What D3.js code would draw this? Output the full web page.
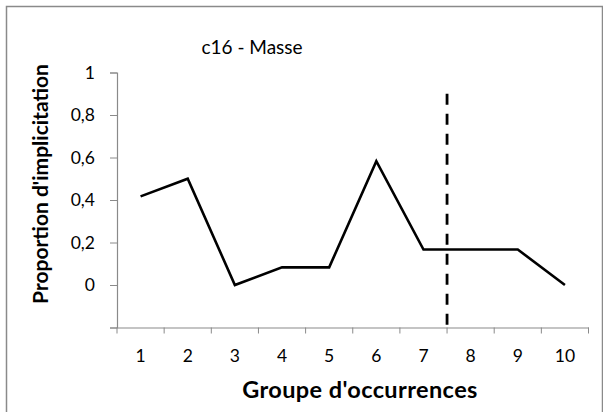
<!DOCTYPE html>
<html>
<head>
<meta charset="utf-8">
<script src="https://cdn.jsdelivr.net/npm/d3@7"></script>
<style>
  body { margin: 0; background: #fff; }
  text { font-family: Lato, "Open Sans", sans-serif; fill: #000; }
</style>
</head>
<body>
<svg id="chart" width="603" height="412"></svg>
<script>
// data
var groups = ["1", "2", "3", "4", "5", "6", "7", "8", "9", "10"];
var proportions = [0.417, 0.5, 0, 0.083, 0.083, 0.583, 0.167, 0.167, 0.167, 0];
var yTicks = [0, 0.2, 0.4, 0.6, 0.8, 1];
var splitAfter = "7";
var splitTop = 0.9;
var chartTitle = "c16 - Masse";
var xTitle = "Groupe d'occurrences";
var yTitle = "Proportion d'implicitation";

var svg = d3.select("#chart");
var margin = { left: 117, right: 14.5, top: 72.5, bottom: 84.5 };
var width = 603, height = 412;

// outer frame
svg.append("rect")
  .attr("x", 6.5).attr("y", 6.5)
  .attr("width", 596).attr("height", 420)
  .attr("fill", "none")
  .attr("stroke", "#8a8a8a")
  .attr("stroke-width", 1.5);

var x = d3.scaleBand()
  .domain(groups)
  .range([margin.left, width - margin.right]);

var y = d3.scaleLinear()
  .domain([-0.2, 1])
  .range([height - margin.bottom, margin.top]);

var fmt = function (d) { return String(d).replace(".", ","); };

// y axis
var yAxis = svg.append("g")
  .attr("transform", "translate(" + margin.left + ",0)")
  .call(d3.axisLeft(y).tickValues(yTicks.concat([-0.2])).tickSize(7).tickFormat(function (d) { return d < 0 ? "" : fmt(d); }));
yAxis.select(".domain").attr("stroke", "#8a8a8a").attr("stroke-width", 1.2);
yAxis.selectAll(".tick line").attr("stroke", "#8a8a8a");
yAxis.selectAll(".tick text")
  .attr("x", -22)
  .style("font-size", "17.5px");

// x axis
var xAxis = svg.append("g")
  .attr("transform", "translate(0," + y(-0.2) + ")")
  .call(d3.axisBottom(x).tickSize(0).tickSizeOuter(0));
xAxis.select(".domain").attr("stroke", "#8a8a8a").attr("stroke-width", 1.2);
xAxis.selectAll(".tick text")
  .attr("y", 22)
  .style("font-size", "17.5px");
// tick marks at band edges
var edges = groups.map(function (g) { return x(g); }).concat([x(groups[groups.length - 1]) + x.bandwidth()]);
xAxis.selectAll("line.edge")
  .data(edges)
  .enter().append("line")
  .attr("class", "edge")
  .attr("x1", function (d) { return d; })
  .attr("x2", function (d) { return d; })
  .attr("y1", 0).attr("y2", 6)
  .attr("stroke", "#8a8a8a");

// data line
var line = d3.line()
  .x(function (d, i) { return x(groups[i]) + x.bandwidth() / 2; })
  .y(function (d) { return y(d); });
svg.append("path")
  .datum(proportions)
  .attr("d", line)
  .attr("fill", "none")
  .attr("stroke", "#000")
  .attr("stroke-width", 2.6)
  .attr("stroke-linejoin", "miter");

// dashed separator
var sx = x(splitAfter) + x.bandwidth();
svg.append("line")
  .attr("x1", sx).attr("x2", sx)
  .attr("y1", y(splitTop)).attr("y2", y(-0.2))
  .attr("stroke", "#000")
  .attr("stroke-width", 2.8)
  .attr("stroke-dasharray", "11,9");

// titles
svg.append("text")
  .attr("x", 252).attr("y", 54)
  .attr("text-anchor", "middle")
  .style("font-size", "19px")
  .text(chartTitle);

svg.append("text")
  .attr("x", 360).attr("y", 398)
  .attr("text-anchor", "middle")
  .style("font-size", "23.5px")
  .style("letter-spacing", "0.4px")
  .style("font-weight", "bold")
  .text(xTitle);

svg.append("text")
  .attr("transform", "translate(48,184) rotate(-90)")
  .attr("text-anchor", "middle")
  .style("font-size", "21px")
  .style("font-weight", "bold")
  .text(yTitle);
</script>
</body>
</html>
